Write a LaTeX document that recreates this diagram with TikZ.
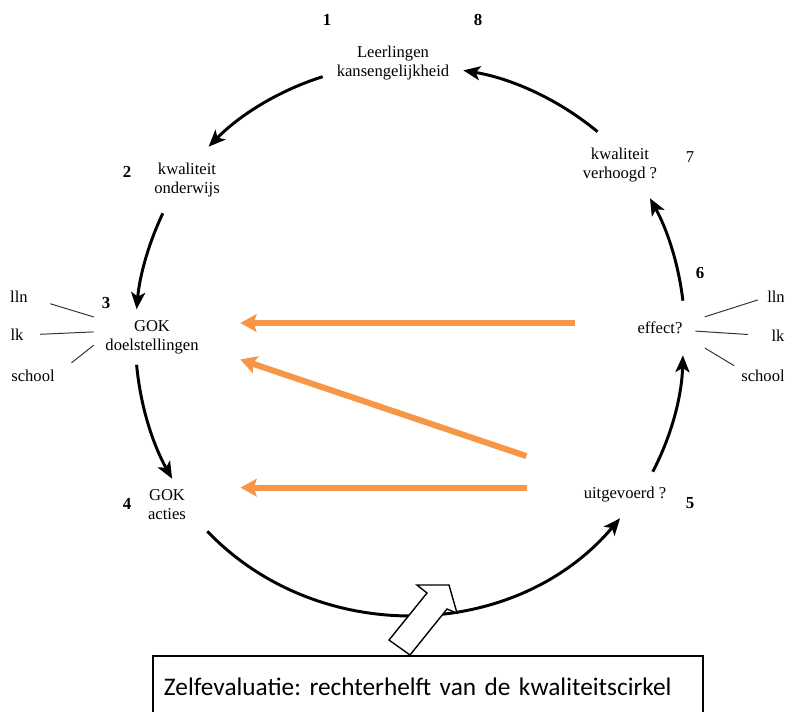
\documentclass[tikz,border=0pt]{standalone}
\usepackage{fontspec}
\setmainfont{Liberation Serif}
\newfontfamily\calibri{Carlito}
\usetikzlibrary{arrows.meta}
\definecolor{oranje}{HTML}{F79646}
\frenchspacing
\begin{document}
\begin{tikzpicture}[x=0.025cm,y=-0.025cm,
                stap/.style={inner sep=0pt,align=center,font=\fontsize{11.8}{13.5}\selectfont},
                nr/.style={inner sep=0pt,font=\fontsize{12}{14}\selectfont\bfseries},
                lbl/.style={inner sep=0pt,font=\fontsize{11.8}{14}\selectfont},
                cirkel/.style={line width=2.1pt,looseness=0.87,-{Stealth[length=12pt,width=10pt,inset=3pt]}},
                terug/.style={oranje,line width=4.3pt,-{Stealth[length=11.5pt,width=12.5pt,inset=2pt]}},
                streep/.style={line width=0.7pt,black!80}]
                \useasboundingbox (0,0) rectangle (787,711);
                \node[stap,minimum width=3.5cm,minimum height=1.6cm] (leerl) at (393,63) {Leerlingen\\kansengelijkheid};
                \node[stap,minimum width=2.75cm,minimum height=1.65cm] (kwal) at (187,180) {kwaliteit\\onderwijs};
                \node[stap,minimum width=2.9cm,minimum height=1.375cm] (doel) at (152,337) {GOK\\doelstellingen};
                \node[stap,minimum width=2cm,minimum height=1.3cm] (acties) at (167,505) {GOK\\acties};
                \node[stap,minimum width=2.6cm,minimum height=1.15cm] (uitg) at (625,495) {uitgevoerd ?};
                \node[stap,minimum width=1.75cm,minimum height=1.35cm] (effect) at (660,328) {effect?};
                \node[stap,minimum width=2.75cm,minimum height=1.65cm] (verh) at (620,165) {kwaliteit\\verhoogd ?};
                \node[nr] (nr1) at (327,20) {1};
                \node[nr] (nr8) at (478,20) {8};
                \node[nr] (nr2) at (127,172) {2};
                \node[nr] (nr3) at (106,303) {3};
                \node[nr] (nr4) at (127,504) {4};
                \node[nr] (nr5) at (690,503) {5};
                \node[nr] (nr6) at (700,273) {6};
                \node[lbl] (nr7) at (690,157) {7};
                \node[lbl] (lln3) at (19,297) {lln};
                \node[lbl] (lk3) at (17,335) {lk};
                \node[lbl] (school3) at (33,376) {school};
                \node[lbl] (lln6) at (776,297) {lln};
                \node[lbl] (lk6) at (778,336) {lk};
                \node[lbl] (school6) at (763,376) {school};
                \draw[streep,shorten <=0.58cm] (lln3.east) -- (doel.161);
                \draw[streep,shorten <=0.41cm] (lk3.east) -- (doel.175);
                \draw[streep,shorten <=0.53cm] (school3.east) -- (doel.188);
                \draw[streep,shorten <=0.25cm,shorten >=0.24cm] (effect.13) -- (lln6.west);
                \draw[streep,shorten >=0.58cm] (effect.-5) -- (lk6.west);
                \draw[streep,shorten <=0.28cm,shorten >=0.2cm] (effect.-22) -- (school6.north west);
                \draw[cirkel] (leerl.191) to[bend right=14] (kwal.57);
                \draw[cirkel] (kwal.234) to[bend right=10] (doel.119);
                \draw[cirkel] (doel.241) to[bend right=12] (acties.79);
                \draw[cirkel,looseness=1] (acties.south east) to[bend right=48] (uitg.258);
                \draw[cirkel] (uitg.40) to[bend right=13] (effect.-50);
                \draw[cirkel] (effect.50) to[bend right=11] (verh.-48);
                \draw[cirkel] (verh.124) to[bend right=15] (leerl.-6);
                \draw[terug,shorten <=1.25cm,shorten >=0.75cm] (effect.172) -- (effect.172 -| doel.east);
                \draw[terug,shorten <=1.22cm,shorten >=0.79cm] (uitg.north west) -- (doel.-12);
                \draw[terug,shorten <=1.15cm,shorten >=0.83cm] (uitg.172) -- (uitg.172 -| acties.east);
                \draw[line width=1pt,fill=white] (449,585) -- (457,613) -- (447,609) -- (410,655) -- (389,640) -- (427,593) -- (417,585) -- cycle;
                \node[draw,line width=1.4pt,anchor=north west,minimum width=13.75cm,minimum height=1.525cm,text width=13.2cm,inner xsep=0.275cm,align=left,font=\calibri\fontsize{18}{22}\selectfont] (zelf) at (152,655) {Zelfevaluatie: rechterhelft van de kwaliteitscirkel};
            \end{tikzpicture}
\end{document}
